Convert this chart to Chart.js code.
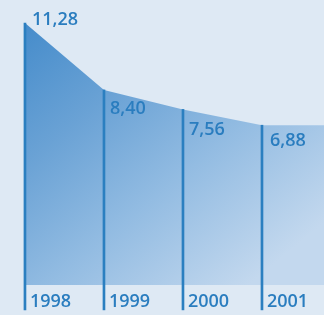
<!DOCTYPE html>
<html>
<head>
<meta charset="utf-8">
<script src="https://cdn.jsdelivr.net/npm/chart.js@4/dist/chart.umd.min.js"></script>
<style>
html,body{margin:0;padding:0;background:#dee9f4;}
#wrap{width:324px;height:315px;}
</style>
</head>
<body>
<div id="wrap"><canvas id="c" width="324" height="315"></canvas></div>
<script>
const years = [1998, 1999, 2000, 2001];
const values = [11.28, 8.40, 7.56, 6.88];
const valueLabels = ['11,28', '8,40', '7,56', '6,88'];

// style constants
const X_MIN = 1997.684, X_MAX = 2001.785;
const Y_MIN = -1.29, Y_MAX = 12.27;
const LINE_BOTTOM = -1.07;
const labelDY = [-3, 19, 20, 16];
const labelDX = [7, 6, 6, 8];
const textColor = '#2a7dbf';
const lineColor = '#2b7fc0';

const areaData = years.map((y, i) => ({x: y, y: values[i]}));
areaData.push({x: X_MAX, y: values[values.length - 1]});
const barData = years.map((y, i) => ({x: y, y: [LINE_BOTTOM, values[i]]}));

function areaFill(ctx) {
  const chart = ctx.chart;
  const a = chart.chartArea;
  if (!a) return '#6fa5d6';
  const g = chart.ctx.createLinearGradient(a.left, a.top + 20, a.left + 230, a.top + 300);
  g.addColorStop(0, '#3f88c9');
  g.addColorStop(0.35, '#6aa2d5');
  g.addColorStop(0.65, '#93bce2');
  g.addColorStop(1, '#c3d8ee');
  return g;
}

const textPlugin = {
  id: 'texts',
  afterDatasetsDraw(chart) {
    const {ctx, scales} = chart;
    const xs = scales.x, ys = scales.y;
    ctx.save();
    ctx.fillStyle = textColor;
    ctx.font = '600 18px "Open Sans"';
    ctx.textAlign = 'left';
    ctx.textBaseline = 'middle';
    years.forEach((yr, i) => {
      const px = xs.getPixelForValue(yr);
      const py = ys.getPixelForValue(values[i]);
      ctx.fillText(valueLabels[i], px + labelDX[i], py + labelDY[i]);
      ctx.fillText(String(yr), px + 5, ys.getPixelForValue(0) + 17);
    });
    ctx.restore();
  }
};

new Chart(document.getElementById('c'), {
  data: {
    datasets: [
      {
        type: 'bar',
        data: barData,
        backgroundColor: lineColor,
        barThickness: 2,
        borderWidth: 0,
        order: 0
      },
      {
        type: 'line',
        data: areaData,
        fill: 'origin',
        backgroundColor: areaFill,
        borderWidth: 0,
        pointRadius: 0,
        tension: 0,
        order: 1
      }
    ]
  },
  options: {
    responsive: false,
    devicePixelRatio: 1,
    animation: false,
    layout: {padding: 0},
    plugins: {legend: {display: false}, tooltip: {enabled: false}},
    scales: {
      x: {type: 'linear', min: X_MIN, max: X_MAX, offset: false, display: false},
      y: {type: 'linear', min: Y_MIN, max: Y_MAX, display: false}
    }
  },
  plugins: [textPlugin]
});
</script>
</body>
</html>
